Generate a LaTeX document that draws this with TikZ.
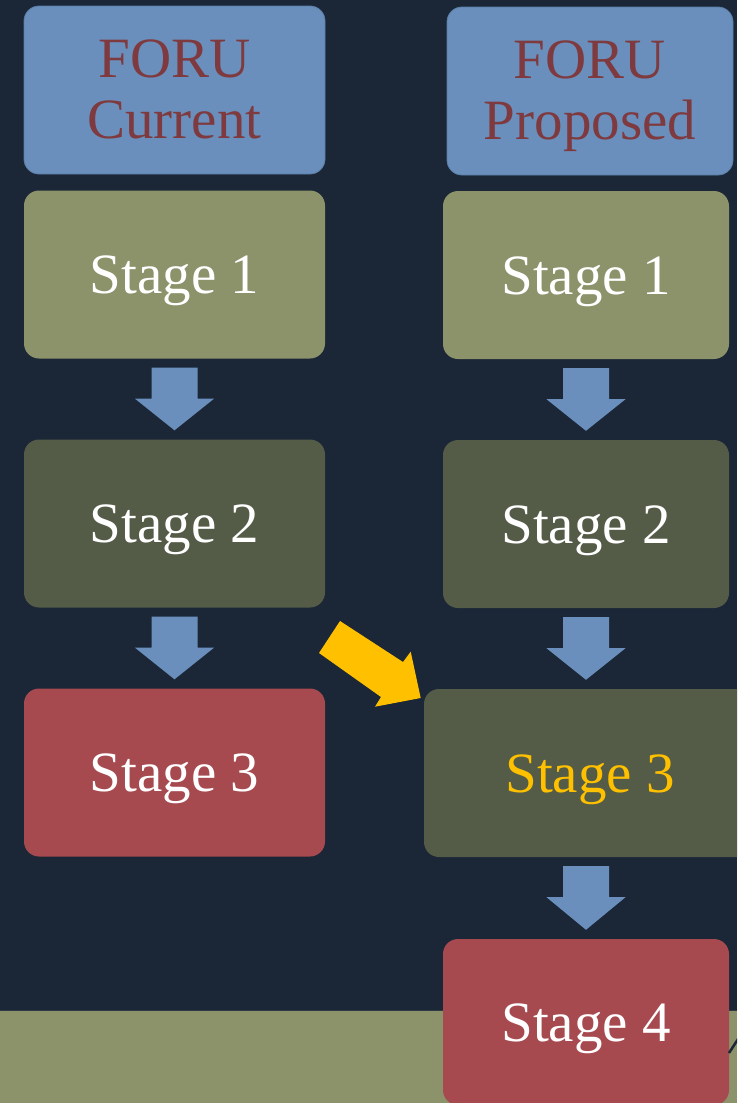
\documentclass[tikz,border=0pt]{standalone}
\usepackage{fontspec}
\setmainfont{Liberation Serif}
\usetikzlibrary{calc}
\definecolor{bg}{HTML}{1B2636}
\definecolor{steel}{HTML}{6A8FBC}
\definecolor{steeledge}{HTML}{5A7DA6}
\definecolor{oliveL}{HTML}{8C936B}
\definecolor{oliveD}{HTML}{545C48}
\definecolor{redbox}{HTML}{A64A50}
\definecolor{forured}{HTML}{7E3A3E}
\definecolor{gold}{HTML}{FFC000}
\definecolor{arrowblue}{HTML}{6A8FBC}
\newcommand\blockarrow[3]{%
  \fill[arrowblue] let \p1=(#2.south), \p2=(#3.north) in
  (#1pt-23pt,\y1-9pt) -- (#1pt+23pt,\y1-9pt) -- (#1pt+23pt,\y1-40pt) --
  (#1pt+39.5pt,\y1-40pt) -- (#1pt,\y2+9pt) -- (#1pt-39.5pt,\y1-40pt) --
  (#1pt-23pt,\y1-40pt) -- cycle;}
\begin{document}
\begin{tikzpicture}[x=1pt,y=-1pt,
  box/.style={rectangle, rounded corners=15pt, minimum width=301pt,
    minimum height=168pt, inner sep=0pt, text=white,
    font=\fontsize{57}{61}\selectfont, text height=38pt, text depth=0pt},
  headbox/.style={box, fill=steel, draw=steeledge, line width=0.8pt,
    text=forured, align=center, text height=99pt, text depth=1.5pt},
  rbox/.style={box, minimum width=286pt}]
\useasboundingbox (0,0) rectangle (737,1103);
\clip (0,0) rectangle (737,1103);
\fill[bg] (0,0) rectangle (737,1103);
\fill[oliveL] (0,1011) rectangle (737,1103);
\draw[bg!80!gray, line width=1pt] (0,1010.5) -- (737,1010.5);

% left column
\node[headbox] (lh) at (174.5,90) {FORU\\Current};
\node[box, fill=oliveL] (l1) at (174.5,274.5) {Stage 1};
\node[box, fill=oliveD] (l2) at (174.5,523.5) {Stage 2};
\node[box, fill=redbox] (l3) at (174.5,772.5) {Stage 3};

% right column
\node[headbox, minimum width=286pt] (rh) at (590,91) {FORU\\Proposed};
\node[rbox, fill=oliveL] (r1) at (586,275) {Stage 1};
\node[rbox, fill=oliveD] (r2) at (586,524) {Stage 2};
\node[box, fill=oliveD, minimum width=332pt, text=gold] (r3) at (590,773) {Stage 3};
\node[rbox, fill=redbox, minimum height=166pt] (r4) at (586,1022) {Stage 4};

% block arrows
\blockarrow{174.5}{l1}{l2}
\blockarrow{174.5}{l2}{l3}
\blockarrow{586}{r1}{r2}
\blockarrow{586}{r2}{r3}
\blockarrow{586}{r3}{r4}

% yellow arrow
\fill[gold] (340,621) -- (403,662) -- (410.7,651.7) -- (420.7,698) --
  (375,706.7) -- (381,697) -- (319,653) -- cycle;

% small dark stroke at bottom right
\draw[bg, line width=2.5pt] (729,1053) -- (740,1036);
\end{tikzpicture}
\end{document}
